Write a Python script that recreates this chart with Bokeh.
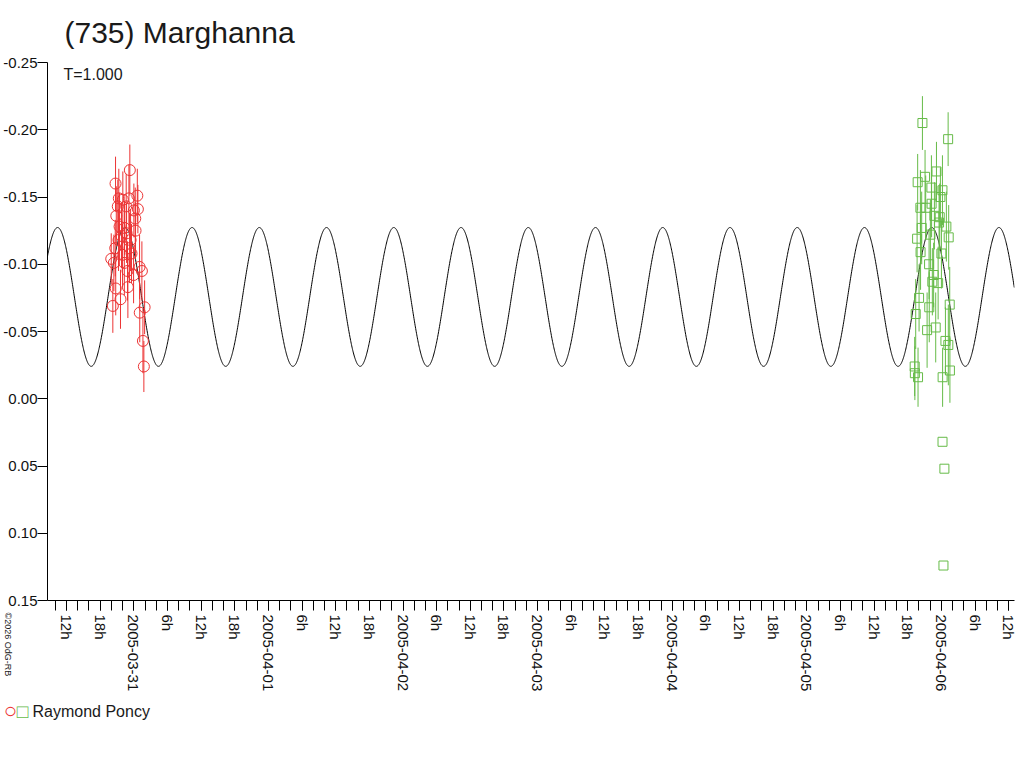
import math
import numpy as np
import pandas as pd
from bokeh.plotting import figure
from bokeh.models import Range1d, FixedTicker, Label, Title, ColumnDataSource
from bokeh.embed import file_html
from bokeh.resources import INLINE

# ---------------- data ----------------
title_text = "(735) Marghanna"
period_text = "T=1.000"
observer = "Raymond Poncy"
credit_text = "©2026 OdG-RB"

red_times = ["2005-03-30 23:17", "2005-03-30 20:44", "2005-03-31 00:37", "2005-03-30 21:19", "2005-03-30 23:07",
             "2005-03-30 22:02", "2005-03-31 00:43", "2005-03-30 21:08", "2005-03-30 22:38", "2005-03-30 20:52",
             "2005-03-31 00:15", "2005-03-31 00:00", "2005-03-30 21:27", "2005-03-30 22:20", "2005-03-30 22:42",
             "2005-03-30 21:48", "2005-03-30 23:25", "2005-03-30 20:41", "2005-03-30 23:14", "2005-03-30 23:35",
             "2005-03-30 19:58", "2005-03-30 20:26", "2005-03-31 01:26", "2005-03-31 01:01", "2005-03-30 23:57",
             "2005-03-30 22:56", "2005-03-30 20:46", "2005-03-30 21:37", "2005-03-30 20:15", "2005-03-31 01:03",
             "2005-03-31 01:55", "2005-03-31 01:37", "2005-03-31 01:47", "2005-03-30 22:18", "2005-03-30 22:52",
             "2005-03-30 21:59", "2005-03-31 00:18", "2005-03-30 21:16"]
red_mags = [-0.170, -0.160, -0.151, -0.149, -0.149, -0.148, -0.141, -0.143, -0.143, -0.136,
            -0.134, -0.140, -0.128, -0.127, -0.123, -0.121, -0.118, -0.112, -0.112, -0.108,
            -0.104, -0.101, -0.095, -0.098, -0.092, -0.083, -0.082, -0.074, -0.069, -0.064,
            -0.068, -0.043, -0.024, -0.101, -0.095, -0.107, -0.125, -0.118]
red_errs = [0.019, 0.020, 0.020, 0.022, 0.025, 0.021, 0.018, 0.020, 0.024, 0.022,
            0.023, 0.020, 0.025, 0.020, 0.022, 0.024, 0.023, 0.021, 0.026, 0.022,
            0.019, 0.021, 0.022, 0.024, 0.021, 0.023, 0.020, 0.022, 0.020, 0.022,
            0.020, 0.024, 0.019, 0.024, 0.022, 0.023, 0.021, 0.023]

green_times = ["2005-04-05 20:37", "2005-04-06 01:12", "2005-04-05 23:07", "2005-04-05 21:05", "2005-04-05 19:46",
               "2005-04-05 22:13", "2005-04-06 00:11", "2005-04-05 23:49", "2005-04-05 22:15", "2005-04-05 20:15",
               "2005-04-05 21:12", "2005-04-05 23:42", "2005-04-05 23:35", "2005-04-06 00:53", "2005-04-05 20:29",
               "2005-04-06 01:18", "2005-04-05 19:40", "2005-04-06 00:00", "2005-04-05 20:17", "2005-04-05 21:48",
               "2005-04-05 22:37", "2005-04-05 22:23", "2005-04-05 23:25", "2005-04-05 20:01", "2005-04-05 21:50",
               "2005-04-06 01:29", "2005-04-05 19:25", "2005-04-05 21:27", "2005-04-05 22:59", "2005-04-06 01:14",
               "2005-04-05 19:14", "2005-04-05 19:16", "2005-04-05 19:50", "2005-04-06 01:31", "2005-04-06 00:13",
               "2005-04-06 00:12", "2005-04-06 00:32", "2005-04-06 00:22", "2005-04-06 00:43", "2005-04-05 22:02",
               "2005-04-05 22:45"]
green_mags = [-0.205, -0.193, -0.169, -0.165, -0.161, -0.157, -0.155, -0.150, -0.145, -0.142,
              -0.142, -0.135, -0.131, -0.128, -0.127, -0.120, -0.119, -0.108, -0.109, -0.100,
              -0.092, -0.087, -0.086, -0.075, -0.068, -0.070, -0.063, -0.051, -0.053, -0.040,
              -0.024, -0.019, -0.016, -0.021, -0.016, 0.032, 0.052, 0.124, -0.043, -0.122,
              -0.136]
green_errs = [0.020, 0.020, 0.022, 0.020, 0.021, 0.024, 0.026, 0.022, 0.025, 0.028,
              0.024, 0.025, 0.027, 0.026, 0.027, 0.024, 0.025, 0.026, 0.028, 0.026,
              0.024, 0.025, 0.027, 0.025, 0.026, 0.028, 0.026, 0.028, 0.026, 0.030,
              0.022, 0.020, 0.022, 0.024, 0.022, 0.0, 0.0, 0.0, 0.025, 0.026,
              0.025]

# fitted lightcurve (single harmonic)
fit_period_hours = 11.99
fit_peak_time = "2005-03-30 10:24"
fit_mean_mag = -0.0757
fit_amplitude = 0.0516

y_ticks = [-0.25, -0.20, -0.15, -0.10, -0.05, 0.00, 0.05, 0.10, 0.15]
y_tick_labels = ["-0.25", "-0.20", "-0.15", "-0.10", "-0.05", "0.00", "0.05", "0.10", "0.15"]

x_first_tick = "2005-03-30 12:00"
x_tick_labels = ["12h", "18h", "2005-03-31", "6h", "12h", "18h", "2005-04-01", "6h", "12h", "18h",
                 "2005-04-02", "6h", "12h", "18h", "2005-04-03", "6h", "12h", "18h", "2005-04-04", "6h",
                 "12h", "18h", "2005-04-05", "6h", "12h", "18h", "2005-04-06", "6h", "12h"]

x_view_start = "2005-03-30 08:36"
x_view_end = "2005-04-06 13:02"

RED = "#ec3434"
GREEN = "#66bb48"
FONT = "Liberation Sans"

# ---------------- helpers ----------------
epoch = pd.Timestamp("2005-03-31 00:00")


def hours(ts):
    return ((pd.to_datetime(pd.Series(ts)) - epoch) / pd.Timedelta(hours=1)).to_numpy()


x_start = float(hours([x_view_start])[0])
x_end = float(hours([x_view_end])[0])

red_h = hours(red_times)
green_h = hours(green_times)
red_src = ColumnDataSource(dict(t=red_h, m=red_mags,
                                lo=np.array(red_mags) - np.array(red_errs),
                                hi=np.array(red_mags) + np.array(red_errs)))
green_src = ColumnDataSource(dict(t=green_h, m=green_mags,
                                  lo=np.array(green_mags) - np.array(green_errs),
                                  hi=np.array(green_mags) + np.array(green_errs)))

peak_h = float(hours([fit_peak_time])[0])
curve_t = np.arange(x_start, x_end, 0.05)
curve_m = fit_mean_mag - fit_amplitude * np.cos(2 * math.pi * (curve_t - peak_h) / fit_period_hours)

x_tick_pos = hours(pd.date_range(x_first_tick, periods=len(x_tick_labels), freq="6h"))
x_minor = list(np.arange(math.ceil(x_start / 2) * 2, x_end, 2.0))

# ---------------- main figure ----------------
p = figure(width=1024, height=760, title=None, toolbar_location=None, output_backend="svg",
           x_range=Range1d(x_start, x_end), y_range=Range1d(0.15, -0.25),
           min_border_left=45, min_border_right=0, min_border_top=62, min_border_bottom=160)
p.outline_line_color = None
p.grid.visible = False
p.background_fill_color = "white"
p.border_fill_color = "white"

p.line(curve_t, curve_m, line_color="black", line_width=1)

p.segment(x0="t", y0="lo", x1="t", y1="hi", source=red_src, line_color=RED, line_width=1)
p.scatter(x="t", y="m", source=red_src, marker="circle", size=11, fill_color=None,
          line_color=RED, line_width=1)
p.segment(x0="t", y0="lo", x1="t", y1="hi", source=green_src, line_color=GREEN, line_width=1)
p.scatter(x="t", y="m", source=green_src, marker="square", size=9, fill_color=None,
          line_color=GREEN, line_width=1)

xa = p.xaxis[0]
xa.ticker = FixedTicker(ticks=[float(v) for v in x_tick_pos], minor_ticks=[float(v) for v in x_minor])
xa.major_label_overrides = {float(v): lab for v, lab in zip(x_tick_pos, x_tick_labels)}
xa.major_label_orientation = -math.pi / 2
xa.major_tick_out = 10
xa.major_tick_in = 0
xa.minor_tick_out = 10
xa.minor_tick_in = 0
xa.major_label_standoff = 4
xa.axis_line_color = "black"
xa.major_tick_line_color = "black"
xa.minor_tick_line_color = "black"
xa.major_label_text_font = FONT
xa.major_label_text_font_size = "15px"
xa.major_label_text_color = "#111111"

ya = p.yaxis[0]
ya.ticker = FixedTicker(ticks=y_ticks)
ya.major_label_overrides = {v: lab for v, lab in zip(y_ticks, y_tick_labels)}
ya.major_tick_out = 10
ya.major_tick_in = 0
ya.minor_tick_line_color = None
ya.major_label_standoff = 0
ya.axis_line_color = "black"
ya.major_tick_line_color = "black"
ya.major_label_text_font = FONT
ya.major_label_text_font_size = "15px"
ya.major_label_text_color = "#111111"

# main title above the plot area
p.add_layout(Title(text=title_text, align="left", offset=17, standoff=27, text_font=FONT,
                   text_font_size="30px", text_font_style="normal", text_color="#1a1a1a"), "above")
# period note, just inside the top of the plot area
p.add_layout(Label(x=-12.55, y=-0.2411, text=period_text, text_font=FONT, text_font_size="16px",
                   text_color="#1a1a1a", text_baseline="alphabetic", text_align="left"))

# observer key under the time axis: red circle, green square, name
p.add_layout(Label(x=-37, y=9, x_units="screen", y_units="screen", text="○", text_font=FONT,
                   text_font_size="22px", text_color=RED, text_align="center",
                   text_baseline="middle"), "below")
p.add_layout(Label(x=-25, y=29, x_units="screen", y_units="screen", text="□", text_font=FONT,
                   text_font_size="19px", text_color=GREEN, text_align="center",
                   text_baseline="middle"), "below")
p.add_layout(Label(x=-15, y=46, x_units="screen", y_units="screen", text=observer, text_font=FONT,
                   text_font_size="16px", text_color="#1a1a1a", text_align="left",
                   text_baseline="middle"), "below")

# small credit in the lower-left corner
p.add_layout(Label(x=-1007, y=-12, x_units="screen", y_units="screen", text=credit_text, text_font=FONT,
                   text_font_size="9px", text_color="#1a1a1a", angle=-math.pi / 2,
                   text_baseline="middle", text_align="left"), "right")

open("out.html", "w").write(file_html(p, INLINE))
